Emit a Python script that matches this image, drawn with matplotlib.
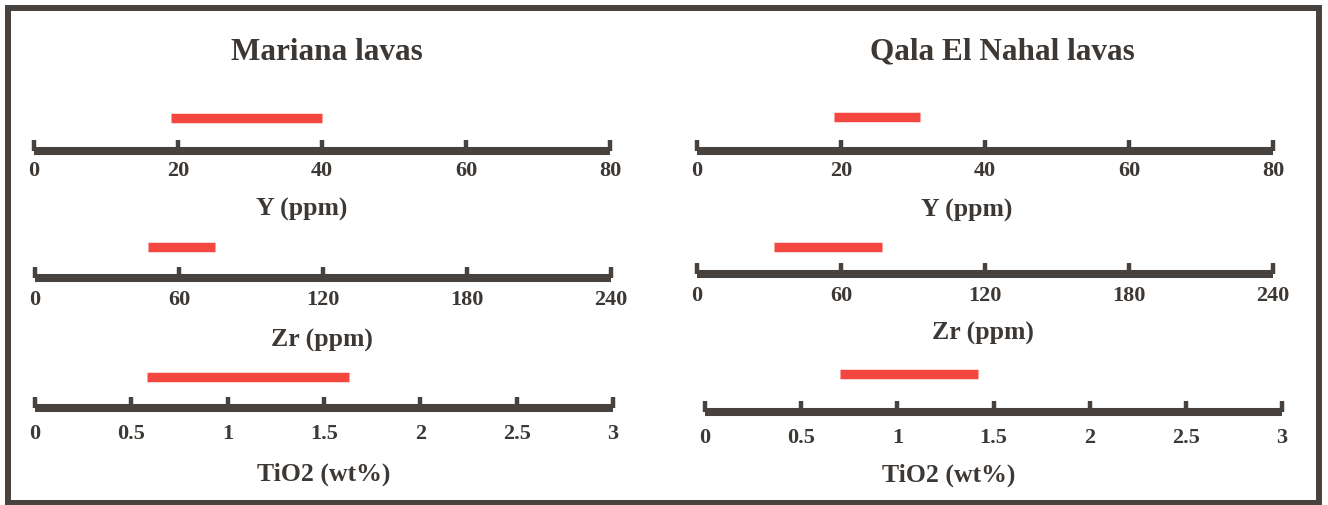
import matplotlib
matplotlib.use("Agg")
import matplotlib.pyplot as plt
from matplotlib.patches import Rectangle

# ---------------- data ----------------
panel_titles = ["Mariana lavas", "Qala El Nahal lavas"]
element_labels = ["Y (ppm)", "Zr (ppm)", "TiO2 (wt%)"]
axis_max = [80, 240, 3]
ticks_y = [0, 20, 40, 60, 80]
ticks_zr = [0, 60, 120, 180, 240]
ticks_tio2 = [0, 0.5, 1, 1.5, 2, 2.5, 3]
ticklabels_tio2 = ["0", "0.5", "1", "1.5", "2", "2.5", "3"]
mariana_low = [19, 47, 0.58]
mariana_high = [40, 75, 1.63]
qala_low = [19, 32, 0.70]
qala_high = [31, 77, 1.42]

# ---------------- style / layout ----------------
W, H = 1328, 505
DARK = "#48423e"
TEXT = "#3d3834"
RED = "#f4473f"
FONT = "Liberation Serif"

fig = plt.figure(figsize=(W / 100, H / 100), dpi=100)
fig.patch.set_facecolor("white")

def px_rect(x0, y_top, x1, y_bot):
    return [x0 / W, 1 - y_bot / H, (x1 - x0) / W, (y_bot - y_top) / H]

# outer frame
fig.patches.append(Rectangle((8 / W, 1 - 503 / H), (1319 - 8) / W, (503 - 8) / H,
                             transform=fig.transFigure, fill=False,
                             edgecolor=DARK, linewidth=4.3))

all_ticks = [ticks_y, ticks_zr, ticks_tio2]
all_ticklabels = [[str(t) for t in ticks_y], [str(t) for t in ticks_zr], ticklabels_tio2]
lows = [mariana_low, qala_low]
highs = [mariana_high, qala_high]

# layout (pixels): per panel, per element: x0, x1, axis y, bar y, label x, label y
layout = [
    [(34, 610, 151, 118, 302, 209), (35, 611, 278, 247, 322, 340), (35, 613, 408, 377, 324, 474)],
    [(697, 1273, 151, 117, 967, 210), (697, 1273, 274, 247, 983, 333), (705, 1282, 412, 374, 949, 475)],
]
pads = [7.5, 8.5, 11.5]
title_pos = [(327, 52), (1002, 52)]

for p in range(2):
    tx, ty = title_pos[p]
    fig.text(tx / W, 1 - ty / H, panel_titles[p], ha="center", va="center",
             fontsize=22.5, fontweight="bold", family=FONT, color=TEXT)
    for e in range(3):
        x0, x1, ya, yb, lx, ly = layout[p][e]
        ax = fig.add_axes(px_rect(x0, ya - 50, x1, ya))
        ax.set_xlim(0, axis_max[e])
        ax.set_ylim(0, 50)
        ax.patch.set_visible(False)
        for s in ["top", "left", "right"]:
            ax.spines[s].set_visible(False)
        sp = ax.spines["bottom"]
        sp.set_linewidth(5.8)
        sp.set_color(DARK)
        sp.set_capstyle("butt")
        ax.set_yticks([])
        ax.set_xticks(all_ticks[e])
        ax.set_xticklabels(all_ticklabels[e])
        ax.tick_params(axis="x", direction="in", length=8, width=3.2,
                       color=DARK, pad=pads[e], labelsize=16, labelcolor=TEXT)
        for lab in ax.get_xticklabels():
            lab.set_fontfamily(FONT)
            lab.set_fontweight("bold")
        ax.plot([lows[p][e], highs[p][e]], [ya - yb, ya - yb], color=RED,
                linewidth=6.8, solid_capstyle="butt", clip_on=False)
        fig.text(lx / W, 1 - ly / H, element_labels[e], ha="center", va="center",
                 fontsize=18.5, fontweight="bold", family=FONT, color=TEXT)

fig.savefig("out.png", dpi=100)
